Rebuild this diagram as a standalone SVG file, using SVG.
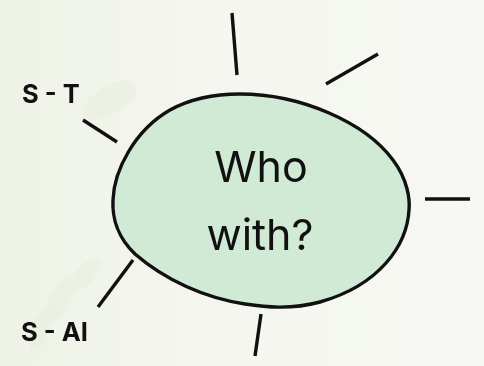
<svg xmlns="http://www.w3.org/2000/svg" width="484" height="366" viewBox="0 0 484 366">
<style>
.c{stroke:#111;stroke-width:3.4;stroke-linecap:butt;fill:none}
.lbl{font-family:Inter,"Liberation Sans",sans-serif;font-weight:700;font-size:25.5px;fill:#111}
.big{font-family:Inter,"Liberation Sans",sans-serif;font-size:43px;fill:#111;text-anchor:middle}
</style>
<defs>
<linearGradient id="bg" x1="0" y1="0" x2="1" y2="0">
<stop offset="0" stop-color="#eef2e6"/>
<stop offset="0.4" stop-color="#f4f6ef"/>
<stop offset="1" stop-color="#f7f8f3"/>
</linearGradient>
</defs>
<rect width="484" height="366" fill="url(#bg)"/>
<g opacity="0.18" fill="#d6e2c6">
<ellipse cx="60" cy="300" rx="10" ry="26" transform="rotate(30 60 300)"/>
<ellipse cx="85" cy="275" rx="9" ry="22" transform="rotate(40 85 275)"/>
<ellipse cx="40" cy="330" rx="9" ry="22" transform="rotate(20 40 330)"/>
<ellipse cx="110" cy="100" rx="14" ry="30" transform="rotate(60 110 100)"/>
</g>
<g id="connectors">
<line class="c" x1="232" y1="13" x2="237" y2="75"/>
<line class="c" x1="326" y1="84" x2="378" y2="54"/>
<line class="c" x1="425" y1="199" x2="470" y2="199"/>
<line class="c" x1="261" y1="314" x2="255" y2="356"/>
<line class="c" x1="133" y1="260" x2="98" y2="307"/>
<line class="c" x1="83" y1="120" x2="117" y2="142"/>
</g>
<g id="center">
<path d="M240,94 C300,94 365,122 393,160 C408,180 410,200 409,210 C407,245 380,285 320,302 C290,310 265,307 245,304 C205,298 165,280 135,254 C118,238 112,218 113,200 C114,170 135,130 170,110 C190,99 215,94 240,94 Z" fill="#d0ead6" stroke="#111" stroke-width="3.4"/>
<text class="big" x="261" y="182">Who</text>
<text class="big" x="260" y="250">with?</text>
</g>
<g id="st"><text class="lbl" x="22" y="103">S - T</text></g>
<g id="sai"><text class="lbl" x="21" y="341">S - AI</text></g>
</svg>
